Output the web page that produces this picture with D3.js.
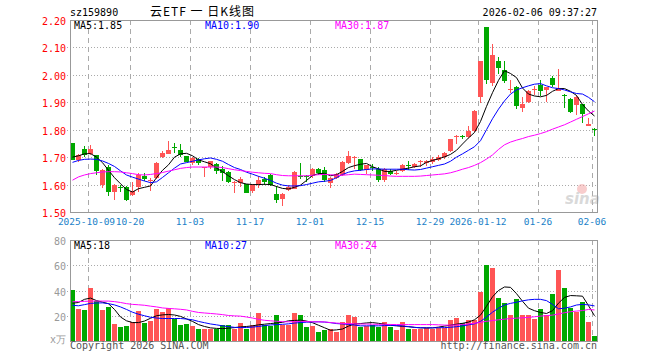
<!DOCTYPE html>
<html>
<head>
<meta charset="utf-8">
<script src="https://cdn.jsdelivr.net/npm/d3@7"></script>
<style>
  body { margin: 0; background: #fff; }
  svg { display: block; }
</style>
</head>
<body>
<script>
// trading days shown in the chart
const dates = [
  "2025-09-26","2025-09-29","2025-09-30","2025-10-09","2025-10-10","2025-10-13","2025-10-14","2025-10-15","2025-10-16","2025-10-17",
  "2025-10-20","2025-10-21","2025-10-22","2025-10-23","2025-10-24","2025-10-27","2025-10-28","2025-10-29","2025-10-30","2025-10-31",
  "2025-11-03","2025-11-04","2025-11-05","2025-11-06","2025-11-07","2025-11-10","2025-11-11","2025-11-12","2025-11-13","2025-11-14",
  "2025-11-17","2025-11-18","2025-11-19","2025-11-20","2025-11-21","2025-11-24","2025-11-25","2025-11-26","2025-11-27","2025-11-28",
  "2025-12-01","2025-12-02","2025-12-03","2025-12-04","2025-12-05","2025-12-08","2025-12-09","2025-12-10","2025-12-11","2025-12-12",
  "2025-12-15","2025-12-16","2025-12-17","2025-12-18","2025-12-19","2025-12-22","2025-12-23","2025-12-24","2025-12-25","2025-12-26",
  "2025-12-29","2025-12-30","2025-12-31","2026-01-05","2026-01-06","2026-01-07","2026-01-08","2026-01-09","2026-01-12","2026-01-13",
  "2026-01-14","2026-01-15","2026-01-16","2026-01-19","2026-01-20","2026-01-21","2026-01-22","2026-01-23","2026-01-26","2026-01-27",
  "2026-01-28","2026-01-29","2026-01-30","2026-02-02","2026-02-03","2026-02-04","2026-02-05","2026-02-06"
];

const open = [
  1.750,1.691,1.728,1.711,1.707,1.600,1.665,1.573,1.592,1.590,
  1.562,1.590,1.632,1.613,1.625,1.702,1.712,1.736,1.725,1.704,
  1.678,1.692,1.659,1.665,1.675,1.658,1.646,1.605,1.607,1.601,
  1.575,1.600,1.622,1.634,1.567,1.546,1.580,1.585,1.630,1.630,
  1.630,1.658,1.652,1.606,1.624,1.634,1.677,1.696,1.692,1.653,
  1.665,1.658,1.616,1.651,1.640,1.649,1.670,1.665,1.683,1.678,
  1.683,1.690,1.700,1.722,1.772,1.778,1.772,1.795,1.920,2.173,
  1.971,2.051,2.017,1.945,1.954,1.878,1.902,1.944,1.963,1.944,
  1.989,1.942,1.928,1.912,1.890,1.893,1.813,1.803
];
const high = [
  1.752,1.713,1.742,1.745,1.709,1.658,1.672,1.601,1.600,1.595,
  1.608,1.643,1.642,1.624,1.682,1.724,1.758,1.752,1.747,1.705,
  1.700,1.697,1.665,1.687,1.680,1.666,1.650,1.612,1.628,1.603,
  1.603,1.630,1.628,1.640,1.595,1.570,1.600,1.651,1.677,1.636,
  1.660,1.662,1.663,1.628,1.642,1.685,1.722,1.703,1.694,1.673,
  1.674,1.664,1.662,1.655,1.648,1.674,1.685,1.677,1.690,1.690,
  1.700,1.707,1.720,1.766,1.780,1.780,1.813,1.871,2.052,2.175,
  2.112,2.064,2.050,1.983,1.959,1.920,1.945,1.959,1.983,1.956,
  1.995,2.020,1.932,1.915,1.926,1.895,1.841,1.805
];
const low = [
  1.690,1.681,1.699,1.708,1.636,1.586,1.558,1.545,1.573,1.540,
  1.558,1.573,1.612,1.577,1.622,1.698,1.710,1.715,1.700,1.682,
  1.670,1.670,1.626,1.655,1.640,1.612,1.605,1.570,1.591,1.569,
  1.571,1.587,1.597,1.595,1.531,1.521,1.578,1.583,1.622,1.610,
  1.625,1.636,1.608,1.588,1.620,1.630,1.675,1.656,1.648,1.640,
  1.650,1.610,1.610,1.636,1.636,1.646,1.652,1.660,1.665,1.668,
  1.675,1.686,1.695,1.718,1.747,1.765,1.768,1.790,1.898,1.966,
  1.959,2.003,1.969,1.935,1.874,1.865,1.899,1.926,1.924,1.902,
  1.955,1.940,1.878,1.862,1.853,1.823,1.812,1.777
];
const close = [
  1.691,1.706,1.708,1.728,1.650,1.652,1.573,1.600,1.588,1.543,
  1.575,1.636,1.620,1.618,1.679,1.716,1.725,1.734,1.709,1.684,
  1.696,1.680,1.663,1.685,1.651,1.644,1.608,1.610,1.619,1.571,
  1.598,1.616,1.609,1.598,1.543,1.567,1.592,1.645,1.627,1.628,
  1.655,1.641,1.617,1.624,1.638,1.681,1.703,1.700,1.652,1.671,
  1.660,1.618,1.657,1.639,1.644,1.671,1.667,1.675,1.686,1.686,
  1.692,1.701,1.716,1.765,1.777,1.774,1.795,1.870,2.050,1.981,
  2.072,2.024,1.977,1.948,1.886,1.893,1.942,1.948,1.942,1.954,
  1.963,1.951,1.924,1.866,1.920,1.857,1.820,1.800
];
// volume, in 10k shares
const volume = [
  40.4,25.3,24.5,42.3,31.6,24.5,27.1,13.3,11.2,11.7,
  15.2,23.7,14.4,16.0,25.3,22.6,25.8,17.8,12.5,13.3,
  11.7,9.3,9.3,9.8,9.8,12.5,12.5,9.8,14.4,9.8,
  12.5,22.3,12.5,12.0,20.5,12.5,13.0,22.0,20.5,11.2,
  12.0,7.2,8.5,9.3,7.2,15.2,20.5,19.1,11.2,12.0,
  13.0,11.2,15.2,11.2,8.5,15.2,9.3,9.8,9.8,10.4,
  9.8,10.5,10.0,16.5,18.4,14.6,16.5,16.5,39.0,60.4,
  58.2,34.3,30.3,20.5,33.2,20.5,20.5,17.3,25.3,20.5,
  37.2,55.9,42.3,26.3,23.1,31.1,15.2,3.7
];

// moving averages as drawn on the chart
const ma5 = [
  1.700,1.705,1.712,1.713,1.700,1.680,1.652,1.625,1.603,1.582,
  1.573,1.585,1.590,1.595,1.625,1.652,1.672,1.700,1.712,1.714,
  1.705,1.690,1.683,1.676,1.660,1.647,1.632,1.618,1.607,1.602,
  1.600,1.600,1.601,1.600,1.593,1.586,1.584,1.590,1.598,1.615,
  1.633,1.640,1.641,1.632,1.636,1.648,1.662,1.669,1.674,1.677,
  1.665,1.657,1.648,1.648,1.652,1.656,1.660,1.665,1.668,1.681,
  1.688,1.694,1.701,1.710,1.725,1.748,1.770,1.790,1.830,1.885,
  1.935,1.980,2.015,2.005,1.990,1.952,1.930,1.923,1.920,1.925,
  1.940,1.950,1.950,1.940,1.925,1.892,1.868,1.850
];
const ma10 = [
  1.681,1.688,1.692,1.693,1.692,1.686,1.677,1.666,1.650,1.635,
  1.627,1.620,1.613,1.607,1.610,1.626,1.643,1.660,1.675,1.680,
  1.685,1.690,1.694,1.697,1.692,1.685,1.673,1.662,1.655,1.645,
  1.638,1.630,1.623,1.615,1.605,1.598,1.595,1.595,1.596,1.600,
  1.605,1.610,1.612,1.615,1.625,1.637,1.645,1.650,1.652,1.655,
  1.657,1.657,1.656,1.656,1.656,1.656,1.654,1.653,1.655,1.660,
  1.665,1.670,1.675,1.685,1.700,1.712,1.725,1.738,1.760,1.800,
  1.840,1.875,1.905,1.930,1.945,1.953,1.960,1.966,1.968,1.960,
  1.953,1.950,1.945,1.938,1.932,1.930,1.918,1.902
];
const ma30 = [
  1.616,1.628,1.635,1.640,1.643,1.646,1.647,1.647,1.646,1.643,
  1.640,1.636,1.635,1.637,1.640,1.644,1.649,1.654,1.659,1.662,
  1.664,1.664,1.664,1.664,1.664,1.662,1.658,1.654,1.651,1.648,
  1.645,1.643,1.641,1.640,1.636,1.633,1.632,1.632,1.632,1.632,
  1.634,1.636,1.637,1.636,1.634,1.634,1.636,1.638,1.637,1.636,
  1.635,1.634,1.633,1.631,1.630,1.630,1.630,1.630,1.631,1.633,
  1.635,1.637,1.639,1.643,1.649,1.656,1.662,1.670,1.680,1.693,
  1.708,1.728,1.745,1.755,1.762,1.768,1.775,1.780,1.786,1.793,
  1.802,1.810,1.818,1.828,1.838,1.848,1.858,1.868
];
const volMa5 = [
  30.0,30.5,33.0,34.0,32.0,30.8,29.5,25.0,19.0,16.0,
  14.6,14.6,15.8,18.0,20.0,20.7,21.0,20.6,19.5,17.5,
  15.5,13.0,11.5,10.4,10.0,9.8,10.2,10.6,11.2,11.5,
  12.0,12.8,13.3,13.8,14.3,14.8,16.0,16.3,16.5,15.8,
  14.5,12.5,10.5,8.5,8.8,9.5,11.8,13.5,13.8,14.3,
  14.6,14.0,13.3,12.5,12.0,11.6,11.3,10.8,10.4,10.4,
  10.4,11.0,11.8,12.5,13.3,14.0,15.0,16.8,20.5,27.5,
  35.0,40.0,42.8,42.5,37.5,31.5,26.0,24.0,22.6,21.8,
  24.0,30.0,34.5,36.0,35.8,35.5,28.0,20.0
];
const volMa10 = [
  28.3,27.9,28.8,29.8,30.1,30.2,29.6,28.6,27.0,25.0,
  22.8,21.2,20.0,18.8,18.2,17.8,17.8,17.8,17.8,17.4,
  16.8,15.5,14.5,13.5,12.8,12.0,11.4,10.8,10.6,10.7,
  11.0,11.5,12.2,12.7,13.0,13.2,13.6,14.2,14.6,14.9,
  15.1,15.2,15.0,14.5,13.8,13.5,13.2,12.6,12.0,12.0,
  12.0,12.0,12.2,12.4,12.3,11.9,11.4,10.8,10.5,10.4,
  10.4,10.5,10.6,10.9,11.3,12.0,12.8,13.6,15.5,19.0,
  22.8,26.0,28.5,29.8,30.7,31.8,32.6,33.0,33.0,32.0,
  29.0,25.5,26.0,27.0,28.5,29.0,28.6,27.8
];
const volMa30 = [
  31.1,31.2,31.4,31.6,31.6,31.6,31.6,31.2,30.5,29.6,
  29.0,28.7,28.3,27.6,27.0,26.2,25.8,25.5,25.1,24.6,
  23.5,22.6,22.2,21.8,21.4,20.9,20.2,19.9,19.7,19.0,
  18.2,17.2,16.4,16.0,15.6,15.3,15.2,15.3,15.6,15.4,
  15.2,15.2,15.1,14.6,14.2,13.9,13.8,13.6,13.5,13.4,
  13.3,13.2,13.2,13.1,13.0,13.0,13.0,13.0,13.0,13.0,
  13.0,12.8,12.6,12.5,12.7,13.1,13.5,14.0,14.8,15.6,
  16.2,16.8,17.3,17.8,18.1,18.4,18.7,19.2,19.7,20.1,
  20.5,21.4,22.4,23.2,23.7,24.1,25.0,24.6
];

const priceTicks = [1.5, 1.6, 1.7, 1.8, 1.9, 2.0, 2.1, 2.2];
const volTicks = [0, 20, 40, 60, 80];
const tickDates = ["2025-10-09","2025-10-20","2025-11-03","2025-11-17","2025-12-01","2025-12-15","2025-12-29","2026-01-12","2026-01-26","2026-02-06"];
const tickLabels = ["2025-10-09","10-20","11-03","11-17","12-01","12-15","12-29","2026-01-12","01-26","02-06"];

const width = 660;
const height = 360;
const left = 70, right = 597;
const priceTop = 20, priceBottom = 212;
const volTop = 240, volBottom = 341;

const upColor = "#ff5555";
const downColor = "#00a800";
const mono = "'DejaVu Sans Mono', monospace";

const svg = d3.select("body")
    .append("svg")
    .attr("width", width)
    .attr("height", height)
    .style("font-family", mono);

svg.append("rect")
    .attr("width", width)
    .attr("height", height)
    .attr("fill", "#fff");

const data = dates.map((d, i) => ({
    date: d, o: open[i], h: high[i], l: low[i], c: close[i], v: volume[i]
}));

const xScale = d3.scaleBand()
    .domain(dates)
    .range([left, right])
    .paddingInner(1 / 6)
    .paddingOuter(0);

const yPrice = d3.scaleLinear()
    .domain([1.5, 2.2])
    .range([priceBottom, priceTop]);

const yVol = d3.scaleLinear()
    .domain([0, 80])
    .range([volBottom, volTop]);

const cx = d => xScale(d) + xScale.bandwidth() / 2;

// ---- header texts
svg.append("text")
    .text("sz159890")
    .attr("x", 70)
    .attr("y", 16)
    .attr("font-size", 10)
    .attr("fill", "#000");

svg.append("text")
    .text("云ETF 一 日K线图")
    .attr("x", 150)
    .attr("y", 16)
    .attr("font-size", 12)
    .attr("textLength", 104)
    .attr("lengthAdjust", "spacing")
    .attr("font-family", "'Noto Sans CJK SC', sans-serif")
    .attr("fill", "#000");

svg.append("text")
    .text("2026-02-06 09:37:27")
    .attr("x", 597)
    .attr("y", 16)
    .attr("text-anchor", "end")
    .attr("font-size", 10)
    .attr("fill", "#000");

// ---- grids for both panels
const panels = [
    {top: priceTop, bottom: priceBottom, scale: yPrice, ticks: priceTicks.slice(1, -1)},
    {top: volTop, bottom: volBottom, scale: yVol, ticks: volTicks.slice(1, -1)}
];

panels.forEach(p => {
    const g = svg.append("g").attr("shape-rendering", "crispEdges");

    g.selectAll(".hgrid")
        .data(p.ticks)
        .join("line")
        .attr("x1", left - 3)
        .attr("x2", right)
        .attr("y1", d => Math.round(p.scale(d)) + 0.5)
        .attr("y2", d => Math.round(p.scale(d)) + 0.5)
        .attr("stroke", "#aaa")
        .attr("stroke-dasharray", "1,2");

    g.selectAll(".vgrid")
        .data(tickDates)
        .join("line")
        .attr("x1", d => xScale(d) + 0.5)
        .attr("x2", d => xScale(d) + 0.5)
        .attr("y1", p.top)
        .attr("y2", p.bottom)
        .attr("stroke", "#aaa")
        .attr("stroke-dasharray", "5,4");
});

// sina watermark
const wm = svg.append("g").attr("opacity", 0.55);
wm.append("circle")
    .attr("cx", 582)
    .attr("cy", 189)
    .attr("r", 5)
    .attr("fill", "#f3a5a5");
wm.append("text")
    .text("sina")
    .attr("x", 565)
    .attr("y", 204)
    .attr("font-family", "'DejaVu Sans', sans-serif")
    .attr("font-weight", "bold")
    .attr("font-style", "italic")
    .attr("font-size", 15)
    .attr("fill", "#bbb");

// ---- candles
const candles = svg.append("g").attr("shape-rendering", "crispEdges");

candles.selectAll(".wick")
    .data(data)
    .join("rect")
    .attr("x", d => xScale(d.date) + 2)
    .attr("width", 1)
    .attr("y", d => Math.round(yPrice(d.h)))
    .attr("height", d => Math.max(1, Math.round(yPrice(d.l)) - Math.round(yPrice(d.h))))
    .attr("fill", d => d.c >= d.o ? upColor : downColor);

candles.selectAll(".body")
    .data(data)
    .join("rect")
    .attr("x", d => xScale(d.date))
    .attr("width", xScale.bandwidth())
    .attr("y", d => Math.round(yPrice(Math.max(d.o, d.c))))
    .attr("height", d => Math.max(1, Math.round(yPrice(Math.min(d.o, d.c))) - Math.round(yPrice(Math.max(d.o, d.c)))))
    .attr("fill", d => d.c >= d.o ? upColor : downColor);

// ---- volume bars
svg.append("g")
    .attr("shape-rendering", "crispEdges")
    .selectAll("rect")
    .data(data)
    .join("rect")
    .attr("x", d => xScale(d.date))
    .attr("width", xScale.bandwidth())
    .attr("y", d => Math.round(yVol(d.v)))
    .attr("height", d => volBottom - Math.round(yVol(d.v)))
    .attr("fill", d => d.c >= d.o ? upColor : downColor);

// ---- moving average lines
const maLines = [
    {values: ma5, scale: yPrice, color: "#000"},
    {values: ma10, scale: yPrice, color: "#0000ff"},
    {values: ma30, scale: yPrice, color: "#ff00ff"},
    {values: volMa5, scale: yVol, color: "#000"},
    {values: volMa10, scale: yVol, color: "#0000ff"},
    {values: volMa30, scale: yVol, color: "#ff00ff"}
];

maLines.forEach(m => {
    const line = d3.line()
        .x((d, i) => cx(dates[i]))
        .y(d => m.scale(d));
    svg.append("path")
        .attr("d", line(m.values))
        .attr("fill", "none")
        .attr("stroke", m.color)
        .attr("stroke-width", 1);
});

// ---- borders
[[priceTop, priceBottom], [volTop, volBottom]].forEach(([t, b]) => {
    svg.append("rect")
        .attr("x", left + 0.5)
        .attr("y", t + 0.5)
        .attr("width", right - left)
        .attr("height", b - t)
        .attr("fill", "none")
        .attr("stroke", "#999")
        .attr("shape-rendering", "crispEdges");
});

// ---- axes
const priceAxis = d3.axisLeft(yPrice)
    .tickValues(priceTicks)
    .tickFormat(d3.format(".2f"))
    .tickSize(0)
    .tickPadding(4);

svg.append("g")
    .attr("transform", `translate(${left}, 0)`)
    .call(priceAxis)
    .call(g => g.select(".domain").remove())
    .selectAll("text")
    .attr("font-family", mono)
    .attr("font-size", 10)
    .attr("dy", "0.45em")
    .attr("fill", "#ff0000");

const volAxis = d3.axisLeft(yVol)
    .tickValues(volTicks)
    .tickFormat(d => d === 0 ? "x万" : d)
    .tickSize(0)
    .tickPadding(4);

svg.append("g")
    .attr("transform", `translate(${left}, 0)`)
    .call(volAxis)
    .call(g => g.select(".domain").remove())
    .selectAll("text")
    .attr("font-family", mono)
    .attr("font-size", 10)
    .attr("dy", d => d === 0 ? "0.1em" : "0.45em")
    .attr("fill", "#999");

// date labels sit centred on the dashed grid lines
svg.append("g")
    .selectAll("text")
    .data(tickDates)
    .join("text")
    .text((d, i) => tickLabels[i])
    .attr("x", (d, i) => xScale(d) - (i === 0 ? 1.5 : 0))
    .attr("y", 225)
    .attr("text-anchor", "middle")
    .attr("font-size", 9.5)
    .attr("fill", "#1a7fc8");

// ---- MA legends
const legends = [
    {y: 29, items: [["MA5:1.85", "#000", 74], ["MA10:1.90", "#0000ff", 205], ["MA30:1.87", "#ff00ff", 335]]},
    {y: 249, items: [["MA5:18", "#000", 74], ["MA10:27", "#0000ff", 205], ["MA30:24", "#ff00ff", 335]]}
];
legends.forEach(l => {
    svg.append("g")
        .selectAll("text")
        .data(l.items)
        .join("text")
        .text(d => d[0])
        .attr("x", d => d[2])
        .attr("y", l.y)
        .attr("font-size", 10)
        .attr("fill", d => d[1]);
});

// ---- footer
svg.append("text")
    .text("Copyright 2026 SINA.COM")
    .attr("x", 70)
    .attr("y", 349)
    .attr("font-size", 10)
    .attr("fill", "#555");

svg.append("text")
    .text("http://finance.sina.com.cn")
    .attr("x", 597)
    .attr("y", 349)
    .attr("text-anchor", "end")
    .attr("font-size", 10)
    .attr("fill", "#555");
</script>
</body>
</html>
